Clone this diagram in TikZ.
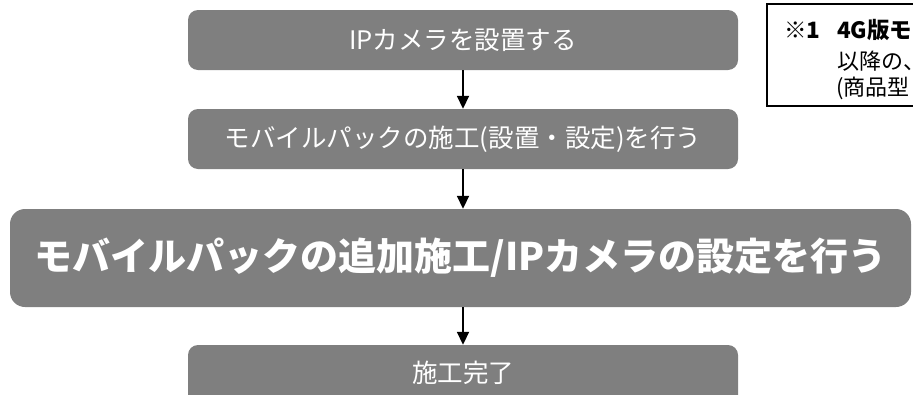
\documentclass[tikz,border=0pt]{standalone}
\usepackage{fontspec}
\setmainfont{Noto Sans CJK JP}
\newfontfamily\jp{Noto Sans CJK JP}
\usetikzlibrary{arrows.meta}
\definecolor{boxgray}{RGB}{127,127,127}
\begin{document}
\begin{tikzpicture}[x=1pt,y=-1pt,
  flowbox/.style={fill=boxgray,rounded corners=10pt,text=white,inner sep=0pt,
    minimum width=550pt,minimum height=60pt,font=\jp\fontsize{25.5}{30}\selectfont},
  bigbox/.style={fill=boxgray,rounded corners=15pt,text=white,inner sep=0pt,
    minimum width=901pt,minimum height=98pt,font=\jp\bfseries\fontsize{38}{44}\selectfont},
  flowarrow/.style={line width=1.8pt,-{Triangle[width=12pt,length=13pt]}},
  notetext/.style={anchor=west,inner sep=0pt,font=\jp\fontsize{22}{26}\selectfont},
]
\useasboundingbox (0,0) rectangle (913,394);
\clip (0,0) rectangle (913,394);
\node[flowbox] (b1) at (463,40) {\raisebox{1.5pt}{IPカメラを設置する}};
\node[flowbox] (b2) at (463,139) {\raisebox{4pt}{モバイルパックの施工(設置・設定)を行う}};
\node[bigbox] (b3) at (460.5,258) {\raisebox{3pt}{モバイルパックの追加施工/IPカメラの設定を行う}};
\node[flowbox] (b4) at (463,375) {\raisebox{6pt}{施工完了}};
\draw[flowarrow] (b1.south) -- (b2.north);
\draw[flowarrow] (b2.south) -- (b2.south |- b3.north);
\draw[flowarrow] (b2.south |- b3.south) -- (b4.north);
\node[draw=black,line width=1.5pt,anchor=north west,minimum width=260pt,minimum height=102pt,inner sep=0pt] (note) at (766,3) {};
\node[notetext,font=\jp\bfseries\fontsize{22.5}{26}\selectfont] (n1) at (784,30) {※1};
\node[notetext,font=\jp\bfseries\fontsize{22.5}{26}\selectfont] (n1b) at (837,30) {4G版モ};
\node[notetext] (n2) at (837,61) {以降の、};
\node[notetext] (n3) at (836,88) {(商品型};
\end{tikzpicture}
\end{document}
